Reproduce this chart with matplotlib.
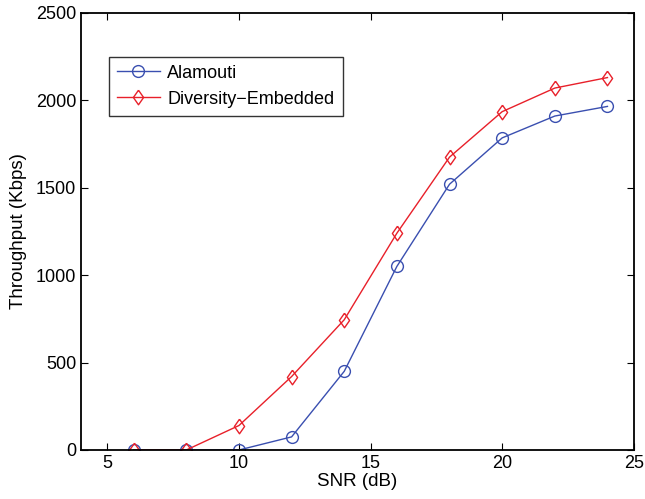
import matplotlib
matplotlib.use("Agg")
import matplotlib.pyplot as plt

snr_db = [6, 8, 10, 12, 14, 16, 18, 20, 22, 24]
alamouti = [0, 0, 0, 75, 450, 1050, 1520, 1785, 1910, 1965]
diversity = [0, 0, 140, 420, 745, 1240, 1675, 1935, 2070, 2130]

plt.rcParams["font.family"] = ["Liberation Sans", "DejaVu Sans"]

# MATLAB-style diamond, a bit narrower than tall
diamond = [(0, 1), (0.7, 0), (0, -1), (-0.7, 0), (0, 1)]

fig = plt.figure(figsize=(6.45, 4.99), dpi=100)
ax = fig.add_axes([0.1256, 0.0982, 0.857, 0.876])

ax.plot(snr_db, alamouti, "-o", color="#3a4fb0", lw=1.0, ms=8.5,
        mfc="none", mew=1.0, label="Alamouti")
ax.plot(snr_db, diversity, "-", marker=diamond, color="#e8202a", lw=1.0, ms=10.5,
        mfc="none", mew=1.0, label="Diversity\u2212Embedded")

ax.set_xlim(4, 25)
ax.set_ylim(0, 2500)
ax.set_xticks([5, 10, 15, 20, 25])
ax.set_yticks([0, 500, 1000, 1500, 2000, 2500])
ax.tick_params(direction="in", top=True, right=True, labelsize=13, length=5, width=0.8)
for s in ax.spines.values():
    s.set_linewidth(1.3)

ax.set_xlabel("SNR (dB)", fontsize=13.5, labelpad=1)
ax.set_ylabel("Throughput (Kbps)", fontsize=13.5, labelpad=6)

leg = ax.legend(loc="upper left", bbox_to_anchor=(0.05, 0.90), fontsize=13,
                frameon=True, fancybox=False, edgecolor="black",
                handlelength=2.4, handletextpad=0.4, borderpad=0.45,
                labelspacing=0.5, borderaxespad=0)
leg.get_frame().set_linewidth(1.0)

fig.savefig("out.png", dpi=100)
